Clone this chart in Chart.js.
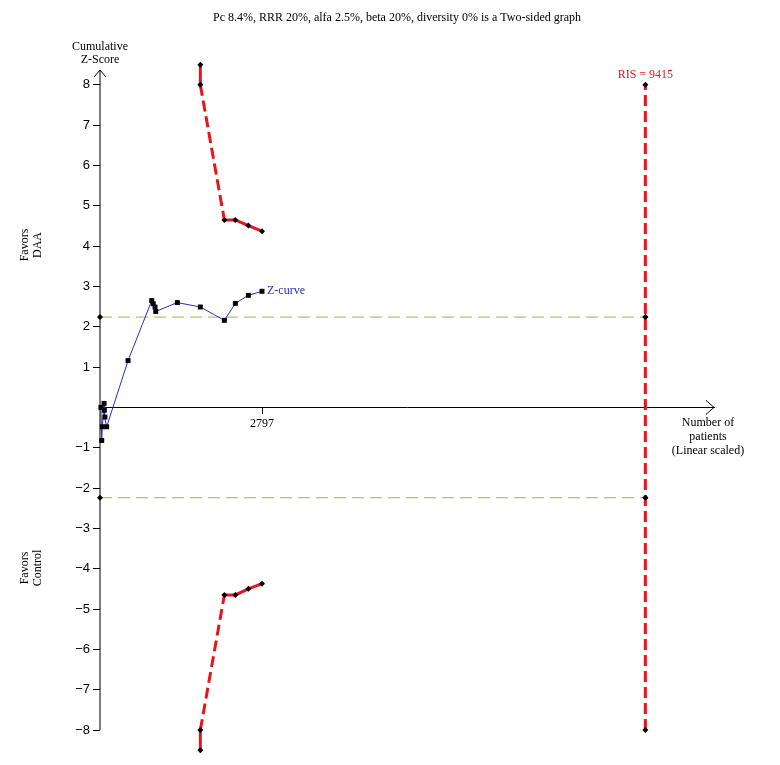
<!DOCTYPE html>
<html>
<head>
<meta charset="utf-8">
<script src="https://cdn.jsdelivr.net/npm/chart.js@4.4.1/dist/chart.umd.min.js"></script>
<style>
  html, body { margin: 0; padding: 0; background: #fff; }
  #wrap { width: 780px; height: 765px; }
</style>
</head>
<body>
<div id="wrap"><canvas id="tsa"></canvas></div>
<script>
/* ------------------------------------------------------------------
   Data
   ------------------------------------------------------------------ */
const titleText = "Pc 8.4%, RRR 20%, alfa 2.5%, beta 20%, diversity 0% is a Two-sided graph";

// cumulative Z-curve
const zPatients = [15, 30, 40, 70, 75, 85, 115, 484, 893, 920, 950, 962, 1335, 1732, 2147, 2337, 2561, 2797];
const zValues   = [0.0, -0.82, -0.48, 0.10, -0.07, -0.24, -0.48, 1.16, 2.65, 2.57, 2.49, 2.38, 2.60, 2.49, 2.16, 2.58, 2.78, 2.88];

// trial sequential monitoring boundaries
const boundPatients = [1732, 1732, 2147, 2337, 2561, 2797];
const upperBound    = [8.5, 8.0, 4.65, 4.65, 4.51, 4.37];
const lowerBound    = [-8.5, -8.0, -4.65, -4.65, -4.50, -4.37];

// conventional boundary (two-sided alfa 2.5%)
const convZ = 2.24;
const convPatients = [0, 9415];

// required information size
const risValue = 9415;
const risZ = [-8, -2.24, 2.24, 8];

const yTickValues = [-8, -7, -6, -5, -4, -3, -2, -1, 1, 2, 3, 4, 5, 6, 7, 8];
const xTickValues = [2797];

/* ------------------------------------------------------------------ */
const serif = "'Liberation Serif', 'Times New Roman', serif";
const sans = "'Liberation Sans', Arial, sans-serif";
const red = "#e8141b";
const green = "#86c440";
const blue = "#2b2bd0";

const pts = (xs, ys) => xs.map((x, i) => ({ x, y: ys[i] }));

// long jump to the boundary is dashed, the rest solid
const boundDash = c => (c.p1DataIndex === 2 ? [11, 5] : []);

const decorPlugin = {
    id: "decorPlugin",
    afterDraw(chart) {
        const { ctx, scales: { x, y } } = chart;
        const x0 = x.getPixelForValue(0);
        const y0 = y.getPixelForValue(0);
        const yTop = 70;
        const xEnd = x.right;

        ctx.save();
        ctx.strokeStyle = "#000";
        ctx.lineWidth = 1;

        // y axis with arrow
        ctx.beginPath();
        ctx.moveTo(x0, y.getPixelForValue(-8));
        ctx.lineTo(x0, yTop);
        ctx.moveTo(x0 - 6, yTop + 7);
        ctx.lineTo(x0, yTop);
        ctx.lineTo(x0 + 6, yTop + 7);
        // x axis arrow head
        ctx.moveTo(xEnd - 8, y0 - 7);
        ctx.lineTo(xEnd, y0);
        ctx.lineTo(xEnd - 8, y0 + 7);
        ctx.stroke();

        ctx.fillStyle = "#000";
        ctx.textAlign = "center";
        ctx.textBaseline = "middle";
        ctx.font = "12px " + serif;
        ctx.fillText(titleText, 397, 18);

        ctx.fillText("Cumulative", x0, 47);
        ctx.fillText("Z-Score", x0, 60);

        ctx.fillText("Number of", 708, 423);
        ctx.fillText("patients", 708, 437);
        ctx.fillText("(Linear scaled)", 708, 451);

        // rotated side labels
        [["Favors", "DAA", 245], ["Favors", "Control", 568]].forEach(([a, b, cy]) => {
            ctx.save();
            ctx.translate(31, cy);
            ctx.rotate(-Math.PI / 2);
            ctx.fillText(a, 0, -6);
            ctx.fillText(b, 0, 7);
            ctx.restore();
        });

        ctx.fillStyle = red;
        ctx.fillText("RIS = " + risValue, x.getPixelForValue(risValue), 75);

        ctx.fillStyle = blue;
        ctx.textAlign = "left";
        const last = zPatients.length - 1;
        ctx.fillText("Z-curve", x.getPixelForValue(zPatients[last]) + 5, y.getPixelForValue(zValues[last]));
        ctx.restore();
    }
};

const diamond = { pointStyle: "rectRot", pointRadius: 3, pointHoverRadius: 3,
                  pointBackgroundColor: "#000", pointBorderColor: "#000", pointBorderWidth: 0 };

new Chart(document.getElementById("tsa"), {
    type: "scatter",
    data: {
        datasets: [
            {
                label: "Z-curve",
                data: pts(zPatients, zValues),
                showLine: true,
                borderColor: blue,
                borderWidth: 1,
                pointStyle: "rect",
                pointRadius: 3.5,
                pointHoverRadius: 3.5,
                pointBackgroundColor: "#000",
                pointBorderColor: "#000",
                pointBorderWidth: 0,
                order: 0
            },
            {
                label: "Upper boundary",
                data: pts(boundPatients, upperBound),
                showLine: true,
                borderColor: red,
                borderWidth: 3,
                segment: { borderDash: boundDash },
                ...diamond,
                order: 1
            },
            {
                label: "Lower boundary",
                data: pts(boundPatients, lowerBound),
                showLine: true,
                borderColor: red,
                borderWidth: 3,
                segment: { borderDash: boundDash },
                ...diamond,
                order: 1
            },
            {
                label: "Conventional upper",
                data: pts(convPatients, convPatients.map(() => convZ)),
                showLine: true,
                borderColor: green,
                borderWidth: 1,
                borderDash: [12, 6],
                ...diamond,
                order: 3
            },
            {
                label: "Conventional lower",
                data: pts(convPatients, convPatients.map(() => -convZ)),
                showLine: true,
                borderColor: green,
                borderWidth: 1,
                borderDash: [12, 6],
                ...diamond,
                order: 3
            },
            {
                label: "RIS",
                data: risZ.map(v => ({ x: risValue, y: v })),
                showLine: true,
                borderColor: red,
                borderWidth: 3,
                borderDash: [11, 5],
                ...diamond,
                order: 2
            }
        ]
    },
    options: {
        responsive: true,
        maintainAspectRatio: false,
        animation: false,
        clip: false,
        layout: { padding: { left: 0, right: 66, top: 44.5, bottom: 6.5 } },
        plugins: {
            legend: { display: false },
            tooltip: { enabled: false },
            title: { display: false }
        },
        scales: {
            x: {
                type: "linear",
                min: 0,
                max: 10600,
                position: { y: 0 },
                afterBuildTicks: s => { s.ticks = xTickValues.map(v => ({ value: v })); },
                ticks: {
                    color: "#000",
                    font: { family: serif, size: 12 },
                    padding: 3,
                    maxRotation: 0,
                    callback: v => String(v)
                },
                grid: { display: true, drawOnChartArea: false, drawTicks: true, tickLength: 6, color: "#000" },
                border: { display: true, color: "#000", width: 1 }
            },
            y: {
                type: "linear",
                min: -8.6,
                max: 9,
                position: "left",
                afterFit: s => { s.width = 100; },
                afterBuildTicks: s => { s.ticks = yTickValues.map(v => ({ value: v })); },
                ticks: {
                    color: "#000",
                    font: { family: sans, size: 13 },
                    padding: 3,
                    callback: v => (v < 0 ? "\u2212" + Math.abs(v) : String(v))
                },
                grid: { display: true, drawOnChartArea: false, drawTicks: true, tickLength: 7, color: "#000" },
                border: { display: false }
            }
        }
    },
    plugins: [decorPlugin]
});
</script>
</body>
</html>
